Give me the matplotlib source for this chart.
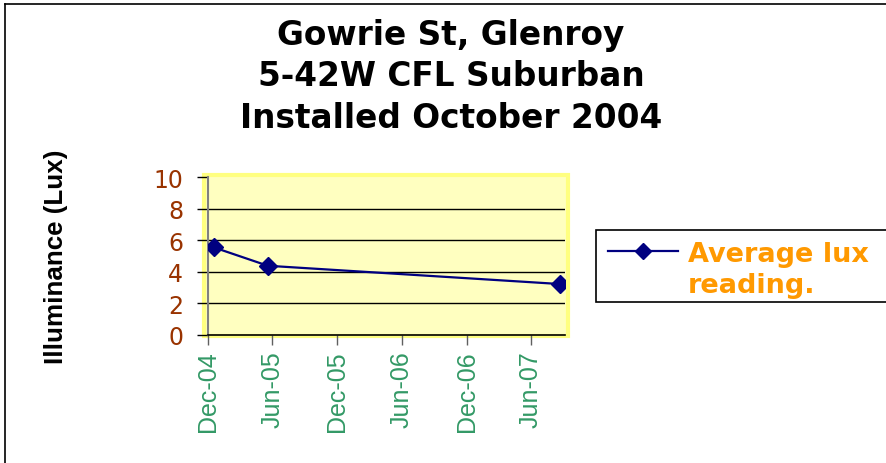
import matplotlib
matplotlib.use("Agg")
import matplotlib.pyplot as plt
import matplotlib.dates as mdates
from matplotlib.patches import Rectangle
from matplotlib.lines import Line2D
from matplotlib.transforms import blended_transform_factory
import numpy as np
import datetime as dt

# ---- data ----
dates = ["2004-12-17", "2005-05-19", "2007-08-21"]
lux = [5.55, 4.38, 3.22]
series_label = ["Average lux", "reading."]
title_lines = ["Gowrie St, Glenroy", "5-42W CFL Suburban", "Installed October 2004"]
y_label = "Illuminance (Lux)"
tick_dates = ["2004-12-01", "2005-06-01", "2005-12-01", "2006-06-01", "2006-12-01", "2007-06-01"]
x_start, x_end = "2004-12-01", "2007-09-05"

plt.rcParams['font.family'] = ['Liberation Sans', 'DejaVu Sans']

W, H = 886, 464
fig = plt.figure(figsize=(W / 100, H / 100), dpi=100)

def fx(px):
    return px / W

def fy(py):
    return 1 - py / H

# outer chart border (left and top visible)
fig.add_artist(Line2D([fx(5), fx(5)], [fy(5), fy(470)], color='black', lw=1.2, transform=fig.transFigure))
fig.add_artist(Line2D([fx(5), fx(890)], [fy(5), fy(5)], color='black', lw=1.2, transform=fig.transFigure))

# plot area background
fig.add_artist(Rectangle((fx(204), fy(337)), fx(568) - fx(204), fy(176) - fy(337),
                         facecolor='#FFFFC0', edgecolor='#FFFF80', lw=3,
                         transform=fig.transFigure, zorder=0))

ax = fig.add_axes([fx(208), fy(335.7), fx(565) - fx(208), fy(178.3) - fy(335.7)])
ax.set_facecolor('none')

xd = [dt.datetime.fromisoformat(d) for d in dates]
line, = ax.plot(xd, lux, color='#000080', lw=1.6, marker='D', markersize=9,
                markerfacecolor='#000080', markeredgecolor='#000080',
                label="\n".join(series_label), zorder=3)

ax.set_xlim(dt.datetime.fromisoformat(x_start), dt.datetime.fromisoformat(x_end))
ax.set_ylim(0, 10)
ax.set_yticks(np.arange(0, 11, 2))
for v in [2, 4, 6, 8]:
    ax.axhline(v, color='black', lw=1, zorder=1)

ticks = [dt.datetime.fromisoformat(d) for d in tick_dates]
ax.set_xticks(ticks)
ax.xaxis.set_major_formatter(mdates.DateFormatter('%b-%y'))

for s in ['top', 'right']:
    ax.spines[s].set_visible(False)
ax.spines['left'].set_color('#808080')
ax.spines['left'].set_linewidth(1.5)
ax.spines['bottom'].set_color('black')
ax.spines['bottom'].set_linewidth(1.2)

ax.tick_params(axis='y', direction='out', length=8, width=1, color='black',
               labelsize=17, labelcolor='#993300', pad=10)
ax.tick_params(axis='x', direction='out', length=7, width=1, color='#606060',
               labelsize=18, labelcolor='#339966', pad=4, labelrotation=90)
for lab in ax.get_yticklabels():
    lab.set_family('DejaVu Sans')

ax.set_ylabel(y_label, fontsize=18.7, fontweight='bold', family='Liberation Sans')
ax.yaxis.set_label_coords(fx(56), 0.5,
                          transform=blended_transform_factory(fig.transFigure, ax.transAxes))
ax.yaxis.label.set_va('center')

# title
for i, t in enumerate(title_lines):
    fig.text(fx(451), fy(36 + i * 41), t, ha='center', va='center',
             fontsize=23.6, fontweight='bold', family='DejaVu Sans')

# legend (drawn in figure coordinates)
fig.add_artist(Rectangle((fx(596), fy(303)), fx(900) - fx(596), fy(231) - fy(303),
                         facecolor='white', edgecolor='black', lw=1.2,
                         transform=fig.transFigure, zorder=2))
fig.add_artist(Line2D([fx(608), fx(678)], [fy(252), fy(252)], color=line.get_color(),
                      lw=1.6, transform=fig.transFigure, zorder=3))
fig.add_artist(Line2D([fx(643)], [fy(252)], marker='D', markersize=8, color=line.get_color(),
                      transform=fig.transFigure, zorder=3))
for i, s in enumerate(series_label):
    fig.text(fx(688), fy(262 + i * 31), s, ha='left', va='baseline', color='#FF9900',
             fontsize=19.5, fontweight='bold', family='DejaVu Sans', zorder=4)

fig.savefig('out.png', dpi=100)
